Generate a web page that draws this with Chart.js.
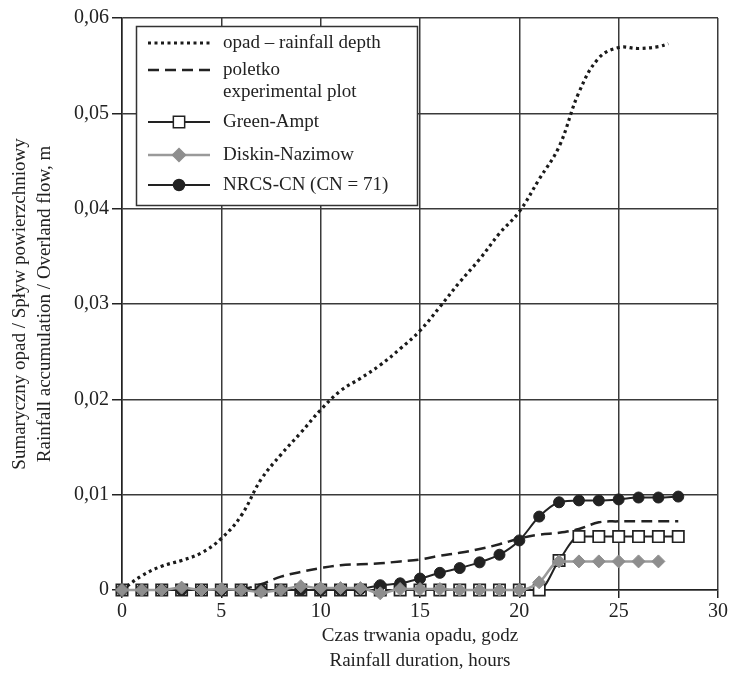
<!DOCTYPE html>
<html lang="pl">
<head>
<meta charset="UTF-8">
<title>Opad i spływ powierzchniowy</title>
<script src="https://cdn.jsdelivr.net/npm/chart.js@4.4.0/dist/chart.umd.min.js"></script>
<style>
  body { margin: 0; background: #fff; }
</style>
</head>
<body>
<canvas id="chart" width="731" height="674"></canvas>
<script>
  // rainfall depth (dotted curve), m
  const rainHours = [0,1,2,3,4,5,6,7,8,9,10,11,12,13,14,15,16,17,18,19,20,21,22,23,24,25,26,27,27.5];
  const rainDepth = [0,0.0015,0.0025,0.0031,0.0039,0.0054,0.0078,0.0116,0.0142,0.0165,0.0189,0.0209,0.0222,0.0236,0.0253,
                     0.0272,0.0297,0.0323,0.0347,0.0374,0.0397,0.0431,0.0465,0.0522,0.0558,0.0569,0.0568,0.057,0.0573];

  // poletko / experimental plot (dashed)
  const plotHours = [6,7,8,9,10,11,12,13,14,15,16,17,18,19,20,21,22,23,24,25,26,27,28];
  const plotFlow = [0,0.0006,0.0014,0.0019,0.0023,0.0026,0.0027,0.0028,0.003,0.0032,0.0036,0.0039,0.0043,0.0048,
                    0.0054,0.0058,0.006,0.0064,0.0071,0.0072,0.0072,0.0072,0.0072];

  // model results, hourly
  const modelHours = [0,1,2,3,4,5,6,7,8,9,10,11,12,13,14,15,16,17,18,19,20,21,22,23,24,25,26,27,28];
  const greenAmpt = [0,0,0,0,0,0,0,0,0,0,0,0,0,0,0,0,0,0,0,0,0,0,0.0031,0.0056,0.0056,0.0056,0.0056,0.0056,0.0056];
  const diskinNazimow = [0,0,0,0.00025,0,0.0001,0,-0.0002,0,0.0004,0.0002,0.0002,0.0002,-0.00035,0.0001,0.0001,0.0001,
                         0,0,0,0,0.0008,0.003,0.003,0.003,0.003,0.003,0.003];
  const nrcsCN = [0,0,0,0,0,0,0,0,0,0,0,0,0.0001,0.0005,0.0007,0.0012,0.0018,0.0023,0.0029,0.0037,0.0052,0.0077,
                  0.0092,0.0094,0.0094,0.0095,0.0097,0.0097,0.0098];

  const xTicks = [0,5,10,15,20,25,30];
  const yTicks = [0,0.01,0.02,0.03,0.04,0.05,0.06];
  const yTickLabels = ['0','0,01','0,02','0,03','0,04','0,05','0,06'];

  const pts = (xs, ys) => ys.map((y, i) => ({ x: xs[i], y: y }));

  const serif = 'Liberation Serif';
  const ink = '#222';

  // legend drawn inside the plot, top-left, like the original figure
  const legendRows = [
    { ds: 0, text: ['opad \u2013 rainfall depth'] },
    { ds: 1, text: ['poletko', 'experimental plot'] },
    { ds: 2, text: ['Green-Ampt'] },
    { ds: 3, text: ['Diskin-Nazimow'] },
    { ds: 4, text: ['NRCS-CN (CN = 71)'] }
  ];
  const rowY = [17, 44, 96, 129, 159];

  function marker(ctx, style, x, y, r, fill, stroke) {
    ctx.beginPath();
    if (style === 'rect') {
      const s = r * Math.SQRT1_2;
      ctx.rect(x - s, y - s, 2 * s, 2 * s);
    } else if (style === 'rectRot') {
      ctx.moveTo(x, y - r); ctx.lineTo(x + r, y); ctx.lineTo(x, y + r); ctx.lineTo(x - r, y); ctx.closePath();
    } else {
      ctx.arc(x, y, r, 0, Math.PI * 2);
    }
    ctx.fillStyle = fill; ctx.fill();
    ctx.lineWidth = 1.5; ctx.strokeStyle = stroke; ctx.stroke();
  }

  const boxLegend = {
    id: 'boxLegend',
    afterDraw(chart) {
      const ctx = chart.ctx;
      const a = chart.chartArea;
      const bx = a.left + 14, by = a.top + 8, bw = 281, bh = 179;
      ctx.save();
      ctx.fillStyle = '#fff';
      ctx.fillRect(bx, by, bw, bh);
      ctx.strokeStyle = '#333';
      ctx.lineWidth = 1.5;
      ctx.strokeRect(bx + 0.5, by + 0.5, bw, bh);
      ctx.font = '19px "' + serif + '"';
      ctx.textBaseline = 'middle';
      legendRows.forEach((row, i) => {
        const d = chart.data.datasets[row.ds];
        const y = by + rowY[i];
        ctx.save();
        ctx.strokeStyle = d.borderColor;
        ctx.lineWidth = d.borderWidth;
        ctx.setLineDash(d.borderDash || []);
        ctx.beginPath();
        ctx.moveTo(bx + 12, y); ctx.lineTo(bx + 74, y);
        ctx.stroke();
        ctx.restore();
        if (d.pointRadius > 0) {
          marker(ctx, d.pointStyle, bx + 43, y, d.pointRadius, d.pointBackgroundColor, d.pointBorderColor);
        }
        ctx.fillStyle = ink;
        row.text.forEach((t, k) => ctx.fillText(t, bx + 87, y + k * 22));
      });
      ctx.restore();
    }
  };

  const axisFont = { family: serif, size: 20 };
  const titleFont = { family: serif, size: 19, lineHeight: 1.35 };

  new Chart(document.getElementById('chart').getContext('2d'), {
    type: 'line',
    data: {
      datasets: [
        {
          label: 'opad \u2013 rainfall depth',
          data: pts(rainHours, rainDepth),
          borderColor: '#1a1a1a', borderWidth: 3.2, borderDash: [3, 3.5], borderCapStyle: 'butt',
          pointRadius: 0, tension: 0.4, order: 4
        },
        {
          label: 'poletko experimental plot',
          data: pts(plotHours, plotFlow),
          borderColor: ink, borderWidth: 2.5, borderDash: [11, 6],
          pointRadius: 0, tension: 0.4, order: 3
        },
        {
          label: 'Green-Ampt',
          data: pts(modelHours, greenAmpt),
          borderColor: ink, borderWidth: 2,
          pointStyle: 'rect', pointRadius: 8, pointBackgroundColor: '#fff', pointBorderColor: ink, pointBorderWidth: 1.7,
          cubicInterpolationMode: 'monotone', order: 2
        },
        {
          label: 'Diskin-Nazimow',
          data: pts(modelHours, diskinNazimow),
          borderColor: '#9a9a9a', borderWidth: 2.5,
          pointStyle: 'rectRot', pointRadius: 6.5, pointBackgroundColor: '#8e8e8e', pointBorderColor: '#8e8e8e', pointBorderWidth: 1,
          cubicInterpolationMode: 'monotone', order: 0
        },
        {
          label: 'NRCS-CN (CN = 71)',
          data: pts(modelHours, nrcsCN),
          borderColor: ink, borderWidth: 2,
          pointStyle: 'circle', pointRadius: 5.5, pointBackgroundColor: ink, pointBorderColor: ink, pointBorderWidth: 1,
          cubicInterpolationMode: 'monotone', order: 1
        }
      ]
    },
    options: {
      responsive: false,
      animation: false,
      devicePixelRatio: 1,
      clip: false,
      layout: { padding: { top: 18, right: 13, left: 0, bottom: 0 } },
      plugins: {
        legend: { display: false },
        tooltip: { enabled: false }
      },
      scales: {
        x: {
          type: 'linear', min: 0, max: 30,
          afterBuildTicks: s => { s.ticks = xTicks.map(v => ({ value: v })); },
          afterFit: s => { s.height = 84; },
          grid: { color: '#3a3a3a', lineWidth: 1.5, tickLength: 8, tickColor: ink },
          border: { color: ink, width: 1.5 },
          ticks: { font: axisFont, color: ink, padding: 2, maxRotation: 0 },
          title: {
            display: true, text: ['Czas trwania opadu, godz', 'Rainfall duration, hours'],
            font: titleFont, color: ink, padding: { top: 0, bottom: 0 }
          }
        },
        y: {
          min: 0, max: 0.06,
          afterBuildTicks: s => { s.ticks = yTicks.map(v => ({ value: v })); },
          afterFit: s => { s.width = 122; },
          grid: { color: '#3a3a3a', lineWidth: 1.5, tickLength: 10, tickColor: ink },
          border: { color: ink, width: 1.5 },
          ticks: { font: axisFont, color: ink, padding: 3, callback: (v, i) => yTickLabels[i] },
          title: {
            display: true, text: ['Sumaryczny opad / Spływ powierzchniowy', 'Rainfall accumulation / Overland flow, m'],
            font: titleFont, color: ink, padding: { top: 7, bottom: 0 }
          }
        }
      }
    },
    plugins: [boxLegend]
  });
</script>
</body>
</html>
